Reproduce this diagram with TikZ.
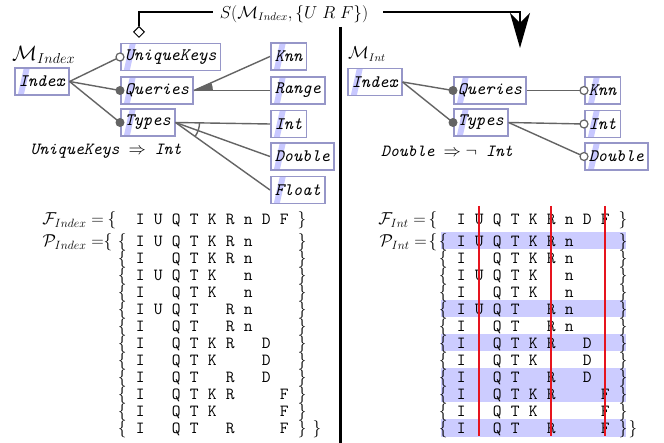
\documentclass[tikz,border=0pt]{standalone}
\usetikzlibrary{shapes.geometric,arrows.meta,calc}
\definecolor{fborder}{RGB}{150,150,200}
\definecolor{fstripe}{RGB}{200,200,255}
\definecolor{conn}{RGB}{100,100,100}
\definecolor{hl}{RGB}{204,204,255}
\definecolor{redline}{RGB}{230,20,30}
\newcommand\bigf{\fontsize{17}{20}\selectfont}
\newcommand\slt[1]{\makebox[18pt]{#1}}
\newcommand\prow[9]{\slt{#1}\slt{#2}\slt{#3}\slt{#4}\slt{#5}\slt{#6}\slt{#7}\slt{#8}\slt{#9}}
\newcommand\brow[9]{\slt{$\{$}\prow{#1}{#2}{#3}{#4}{#5}{#6}{#7}{#8}{#9}\slt{$\}$}}
\tikzset{
  feat/.style={draw=fborder, line width=1.6pt, fill=white, minimum height=27pt,
    inner xsep=4pt, inner ysep=0pt, anchor=west,
    font=\fontsize{17.5}{20}\selectfont\ttfamily\itshape,
    path picture={\fill[fstripe]
      ([xshift=3pt]path picture bounding box.south west) --
      ([xshift=9pt]path picture bounding box.south west) --
      ([xshift=15pt]path picture bounding box.north west) --
      ([xshift=9pt]path picture bounding box.north west) -- cycle;}},
  conline/.style={draw=conn, line width=1.4pt},
  mand/.style={fill=conn},
  opt/.style={draw=conn, line width=1.2pt, fill=white},
  rowtxt/.style={inner sep=0pt, font=\bigf\ttfamily, anchor=base west},
  mtxt/.style={inner sep=0pt, font=\bigf},
  blk/.style={line width=1.6pt, draw=black},
}
\begin{document}
\begin{tikzpicture}[x=1pt,y=-1pt]
\useasboundingbox (0,0) rectangle (664,443);
\fill[white] (0,0) rectangle (664,443);

% ---------- left feature model ----------
\node[feat] (iL) at (14,81.5) {Index};
\node[feat] (uL) at (120,57) {UniqueKeys};
\node[feat] (qL) at (120,90.5) {Queries};
\node[feat] (tL) at (120,122.5) {Types};
\node[feat] (kL) at (270,56.5) {Knn};
\node[feat] (rL) at (270,90.5) {Range};
\node[feat] (nL) at (270,124) {Int};
\node[feat] (dL) at (270,156.5) {Double};
\node[feat] (fL) at (270,190) {Float};

\draw[conline] (iL.east) -- (uL.west);
\draw[conline] (iL.east) -- (qL.west);
\draw[conline] (iL.east) -- (tL.west);
\draw[conline] (qL.east) -- (kL.west);
\draw[conline] (qL.east) -- (rL.west);
\draw[conline] (tL.east) -- (nL.west);
\draw[conline] (tL.east) -- (dL.west);
\draw[conline] (tL.east) -- (fL.west);
\fill[conn] let \p1=(qL.east), \p2=(kL.west), \p3=(rL.west),
  \n1={atan2(\y2-\y1,\x2-\x1)}, \n2={atan2(\y3-\y1,\x3-\x1)} in
  (\p1) -- ++(\n1:19pt) arc[start angle=\n1, end angle=\n2, radius=19pt] -- cycle;
\draw[conline] let \p1=(tL.east), \p2=(nL.west), \p3=(fL.west),
  \n1={atan2(\y2-\y1,\x2-\x1)}, \n2={atan2(\y3-\y1,\x3-\x1)} in
  (\p1) ++(\n1:24pt) arc[start angle=\n1, end angle=\n2, radius=24pt];
\draw[opt] (uL.west) circle[radius=4pt];
\fill[mand] (qL.west) circle[radius=4.5pt];
\fill[mand] (tL.west) circle[radius=4.5pt];

\node[inner sep=0pt, font=\fontsize{21}{24}\selectfont, anchor=west] (mL) at (12,55) {$\mathcal{M}_{Index}$};
\node[mtxt] (cL) at (106,151) {\ttfamily\itshape UniqueKeys $\Rightarrow$ Int};

% ---------- right feature model ----------
\node[feat] (iR) at (347,82) {Index};
\node[feat] (qR) at (453,90.5) {Queries};
\node[feat] (tR) at (453,122.5) {Types};
\node[feat] (kR) at (584,90.5) {Knn};
\node[feat] (nR) at (584,124) {Int};
\node[feat] (dR) at (584,156.5) {Double};

\draw[conline] (iR.east) -- (qR.west);
\draw[conline] (iR.east) -- (tR.west);
\draw[conline] (qR.east) -- (kR.west);
\draw[conline] (tR.east) -- (nR.west);
\draw[conline] (tR.east) -- (dR.west);
\fill[mand] (qR.west) circle[radius=4.5pt];
\fill[mand] (tR.west) circle[radius=4.5pt];
\draw[opt] (kR.west) circle[radius=4pt];
\draw[opt] (nR.west) circle[radius=4pt];
\draw[opt] (dR.west) circle[radius=4pt];

\node[inner sep=0pt, font=\fontsize{16}{19}\selectfont, anchor=west] (mR) at (348,54) {$\mathcal{M}_{Int}$};
\node[mtxt] (cR) at (447,151) {\ttfamily\itshape Double $\Rightarrow\neg$ Int};

% ---------- slicing arrow ----------
\node[diamond, draw=black, fill=white, line width=1pt, minimum size=11pt, inner sep=0pt] (dia) at (139,32) {};
\node[inner xsep=7pt, inner ysep=0pt, font=\fontsize{16}{19}\selectfont] (stext) at (294,14) {$S(\mathcal{M}_{Index}, \{U\ R\ F\})$};
\coordinate (tip) at (520,48);
\draw[blk] (dia.north) |- ([yshift=2pt]stext.west);
\draw[blk, -{Stealth[length=35pt,width=20pt,inset=10pt]}] ([xshift=8pt,yshift=2pt]stext.east) -| (tip);

% separator
\draw[line width=3pt] (340,27) -- (340,443);

% ---------- left sets ----------
\node[mtxt, anchor=base east] (FLl) at (104,225) {$\mathcal{F}_{Index} =$};
\node[mtxt, anchor=base] (FLb) at (112,225) {$\{$};
\node[rowtxt] (FLr) at (131,225) {\prow{I}{U}{Q}{T}{K}{R}{n}{D}{F}};
\node[mtxt, anchor=base] (FLe) at (302,225) {$\}$};
\node[mtxt, anchor=base east] (PLl) at (104,247) {$\mathcal{P}_{Index} =$};
\node[mtxt, anchor=base] (PLb) at (108,247) {$\{$};
\node[mtxt, anchor=base] (PLe) at (317,434) {$\}$};

% ---------- right sets ----------
\foreach \k in {0,4,6,8,9,11}
  \fill[hl] (441,{241+17*\k-8.5}) rectangle (626,{241+17*\k+8.5});
\node[mtxt, anchor=base east] (FRl) at (426,225) {$\mathcal{F}_{Int} =$};
\node[mtxt, anchor=base] (FRb) at (433,225) {$\{$};
\node[rowtxt] (FRr) at (452,225) {\prow{I}{U}{Q}{T}{K}{R}{n}{D}{F}};
\node[mtxt, anchor=base] (FRe) at (623,225) {$\}$};
\node[mtxt, anchor=base east] (PRl) at (427,247) {$\mathcal{P}_{Int} =$};
\node[mtxt, anchor=base] (PRb) at (433,247) {$\{$};
\node[mtxt, anchor=base] (PRe) at (633,434) {$\}$};

\foreach [count=\k from 0] \rw in {
  {I}{U}{Q}{T}{K}{R}{n}{}{},
  {I}{}{Q}{T}{K}{R}{n}{}{},
  {I}{U}{Q}{T}{K}{}{n}{}{},
  {I}{}{Q}{T}{K}{}{n}{}{},
  {I}{U}{Q}{T}{}{R}{n}{}{},
  {I}{}{Q}{T}{}{R}{n}{}{},
  {I}{}{Q}{T}{K}{R}{}{D}{},
  {I}{}{Q}{T}{K}{}{}{D}{},
  {I}{}{Q}{T}{}{R}{}{D}{},
  {I}{}{Q}{T}{K}{R}{}{}{F},
  {I}{}{Q}{T}{K}{}{}{}{F},
  {I}{}{Q}{T}{}{R}{}{}{F}}{
  \node[rowtxt] (pl\k) at (113,{247+17*\k}) {\expandafter\brow\rw};
  \node[rowtxt] (pr\k) at (434,{247+17*\k}) {\expandafter\brow\rw};
}

% red columns
\foreach \xx in {479,551,605}
  \draw[redline, line width=1.2pt] (\xx,206) -- (\xx,436);
\end{tikzpicture}
\end{document}
